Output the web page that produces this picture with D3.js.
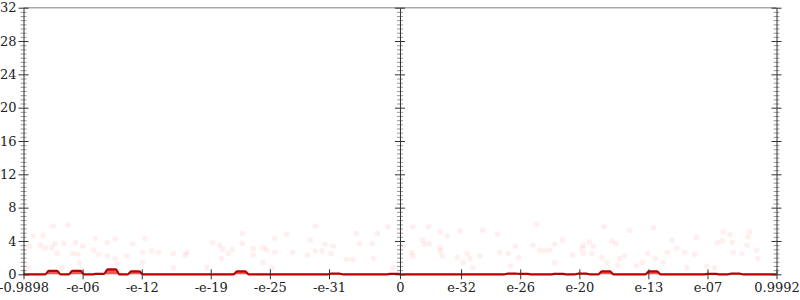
<!DOCTYPE html>
<html>
<head>
<meta charset="utf-8">
<script src="https://cdn.jsdelivr.net/npm/d3@7"></script>
<style>
  body { margin: 0; background: #fff; }
  text { font-family: "DejaVu Serif", serif; font-size: 13px; fill: #222; }
</style>
</head>
<body>
<script>
// x axis: signed log magnitude (values below 1e-38 collapse onto 0)
var xTickValues = [-0.9898, -1e-6, -1e-12, -1e-19, -1e-25, -1e-31, 0, 1e-32, 1e-26, 1e-20, 1e-13, 1e-7, 0.9992];
var xTickLabels = ["-0.9898", "-e-06", "-e-12", "-e-19", "-e-25", "-e-31", "0", "e-32", "e-26", "e-20", "e-13", "e-07", "0.9992"];
var yMajorTicks = [0, 4, 8, 12, 16, 20, 24, 28, 32];
var yMax = 32;

// histogram heights, 64 bins across the whole x range
var binCounts = [0, 0, 0.4, 0, 0.4, 0, 0.05, 0.6, 0, 0.35, 0, 0, 0, 0, 0, 0,
                 0, 0, 0.35, 0, 0, 0, 0, 0, 0, 0, 0.08, 0, 0, 0, 0, 0.05,
                 0, 0, 0, 0, 0, 0, 0, 0, 0, 0.08, 0.05, 0, 0, 0.05, 0, 0.08,
                 0, 0.35, 0, 0, 0, 0.35, 0, 0, 0, 0, 0.05, 0, 0.08, 0, 0, 0];

// faint scattered points: x in signed decades, y in chart units
var dotX = [-35.2, -33.7, -36.2, -37.2, -35.0, -34.1, -32.9, -36.5, -37.6, -32.2, -36.0, -35.3,
            -30.9, -28.9, -29.7, -27.1, -25.9, -33.2, -32.7, -34.8, -31.1, -30.6, -29.7, -28.9,
            -27.7, -32.5, -26.1, -25.2, -24.5, -26.1, -23.0, -21.6, -21.8, -23.0, -19.6, -19.0,
            -18.3, -18.0, -17.0, -17.4, -18.1, -16.0, -16.0, -14.9, -14.9, -13.9, -37.7, -34.3,
            -28.7,
            -8.6, -1.2, -4.4, -2.3, -11.5, -12.7, -7.6, -6.8, -9.1, -2.8, -4.1, -13.5,
            -12.7, -10.9, -8.6, -7.9, -7.0, -9.4, -5.4, -4.8, -2.7, -13.9, -13.0, -0.7,
            1.3, 2.9, 6.1, 4.1, 4.8, 2.3, 2.5, 3.0, 0.3, 1.2, 4.1, 4.1, 4.3, 1.3, 5.8, 6.8,
            7.1, 6.4, 8.4, 9.9, 10.1, 11.0, 11.7, 12.0, 11.2, 8.1, 7.4,
            13.9, 20.7, 25.7, 23.3, 32.8, 33.5, 35.5, 35.3, 16.5, 15.7, 18.6, 19.2, 19.6, 21.5,
            21.9, 18.5, 15.2, 14.7, 14.2, 13.5, 17.5, 18.6, 19.5, 20.5, 22.3, 22.8, 25.1, 25.9,
            26.7, 27.1, 28.1, 28.9, 29.9, 30.1, 27.6, 32.2, 32.7, 33.8, 34.7, 33.7, 36.2, 36.3,
            35.2, 15.7, 21.0, 22.1, 24.0, 24.6, 29.1, 31.1, 31.9];
var dotY = [5.8, 5.9, 4.7, 4.6, 3.7, 3.7, 3.8, 3.5, 3.4, 3.4, 3.2, 3.2,
            4.3, 4.2, 3.8, 3.7, 4.3, 2.5, 2.4, 2.5, 2.9, 2.4, 2.2, 1.9,
            2.2, 1.4, 1.4, 2.8, 2.6, 2.6, 2.5, 2.6, 2.3, 0.8, 0.8, 3.8,
            3.5, 3.0, 3.0, 2.5, 1.9, 4.9, 3.7, 3.1, 2.3, 3.2, 0.8, 0.8,
            1.3,
            5.8, 5.7, 4.9, 4.9, 4.8, 4.3, 3.6, 3.4, 4.1, 3.7, 3.7, 2.9,
            2.6, 2.6, 2.8, 2.8, 2.5, 2.3, 1.8, 1.8, 1.9, 1.4, 0.8, 0.8,
            5.7, 5.7, 5.2, 5.1, 4.6, 4.1, 3.6, 3.7, 3.4, 2.6, 3.2, 2.8, 2.2, 2.2, 2.0, 2.5,
            1.9, 1.4, 5.3, 4.8, 2.6, 2.5, 3.4, 2.0, 1.0, 2.2, 0.8,
            6.0, 5.7, 5.6, 5.3, 5.1, 4.8, 5.1, 4.5, 4.1, 3.6, 3.5, 3.9, 3.4, 4.0,
            3.7, 3.1, 2.9, 2.8, 2.9, 3.5, 2.3, 2.5, 2.5, 2.0, 1.9, 2.2, 2.5, 1.9,
            1.4, 2.6, 3.1, 2.6, 2.4, 4.4, 4.1, 3.8, 4.0, 2.6, 2.5, 3.8, 2.9, 1.9,
            3.5, 1.4, 1.4, 1.1, 1.0, 1.4, 0.8, 1.0, 0.8];

var floorDecades = 38.2;
function fwd(v) {
  if (v == 0) return 0;
  var m = Math.log10(Math.abs(v)) + floorDecades;
  return Math.sign(v) * Math.max(0, m);
}

var w = 800, h = 300;
var svg = d3.select("body").append("svg").attr("width", w).attr("height", h);

var xMin = fwd(xTickValues[0]), xMax = fwd(xTickValues[xTickValues.length - 1]);
var x = d3.scaleLinear().domain([xMin, xMax]).range([23.5, 776.5]);
var y = d3.scaleLinear().domain([0, yMax]).range([274.3, 7.7]);

// top border
svg.append("line")
   .attr("x1", x(xMin)).attr("x2", x(xMax))
   .attr("y1", y(yMax)).attr("y2", y(yMax))
   .attr("stroke", "#aaa").attr("stroke-width", 1.5);

// scattered points
svg.append("g").selectAll("circle")
   .data(dotX)
   .join("circle")
   .attr("cx", function(d) { return x(d); })
   .attr("cy", function(d, i) { return y(dotY[i]); })
   .attr("r", 2.8)
   .attr("fill", "#ff2020")
   .attr("fill-opacity", 0.07);

// histogram as a smoothed step area
var binW = (xMax - xMin) / binCounts.length;
var pts = [];
binCounts.forEach(function(c, i) {
  var x0 = xMin + i * binW, x1 = x0 + binW;
  pts.push([x0 + binW * 0.15, c]);
  pts.push([x1 - binW * 0.15, c]);
});
pts.unshift([xMin, binCounts[0]]);
pts.push([xMax, binCounts[binCounts.length - 1]]);

var area = d3.area()
  .x(function(d) { return x(d[0]); })
  .y0(y(0))
  .y1(function(d) { return y(d[1]); })
  .curve(d3.curveMonotoneX);
var line = d3.line()
  .x(function(d) { return x(d[0]); })
  .y(function(d) { return y(d[1]); })
  .curve(d3.curveMonotoneX);

svg.append("path").datum(pts)
   .attr("d", area)
   .attr("fill", "#f23a3a").attr("fill-opacity", 0.85);
svg.append("path").datum(pts)
   .attr("d", line)
   .attr("fill", "none")
   .attr("stroke", "#b80000").attr("stroke-width", 2.2)
   .attr("stroke-linejoin", "round");

// x axis
var xAxis = d3.axisBottom(x)
  .tickValues(xTickValues.map(fwd))
  .tickFormat(function(d, i) { return xTickLabels[i]; })
  .tickSize(5)
  .tickPadding(3);
var gx = svg.append("g")
  .attr("transform", "translate(0," + y(0) + ")")
  .call(xAxis);
gx.select(".domain").remove();
gx.selectAll(".tick line").attr("y1", -5).attr("stroke", "#333");
gx.selectAll("text").style("font-family", "DejaVu Serif").style("font-size", "13px").attr("fill", "#222");

// three vertical axes: left, centre, right
var halfTicks = d3.range(0, yMax + 0.01, 0.5).filter(function(d) { return d % 4 != 0; });
[xMin, 0, xMax].forEach(function(pos, k) {
  var g = svg.append("g").attr("transform", "translate(" + x(pos) + ",0)");
  var minor = g.append("g").call(d3.axisLeft(y).tickValues(halfTicks).tickSize(3).tickFormat(""));
  minor.select(".domain").remove();
  minor.selectAll(".tick line").attr("x1", 3).attr("stroke", "#999");

  var major = d3.axisLeft(y).tickValues(yMajorTicks).tickSize(5).tickPadding(2).tickSizeOuter(0);
  if (k > 0) major.tickFormat("");
  var gm = g.append("g").call(major);
  gm.select(".domain").attr("stroke", "#333");
  gm.selectAll(".tick line").attr("x1", 5).attr("stroke", "#333");
  gm.selectAll("text").style("font-family", "DejaVu Serif").style("font-size", "13px").attr("fill", "#222");
});
</script>
</body>
</html>
